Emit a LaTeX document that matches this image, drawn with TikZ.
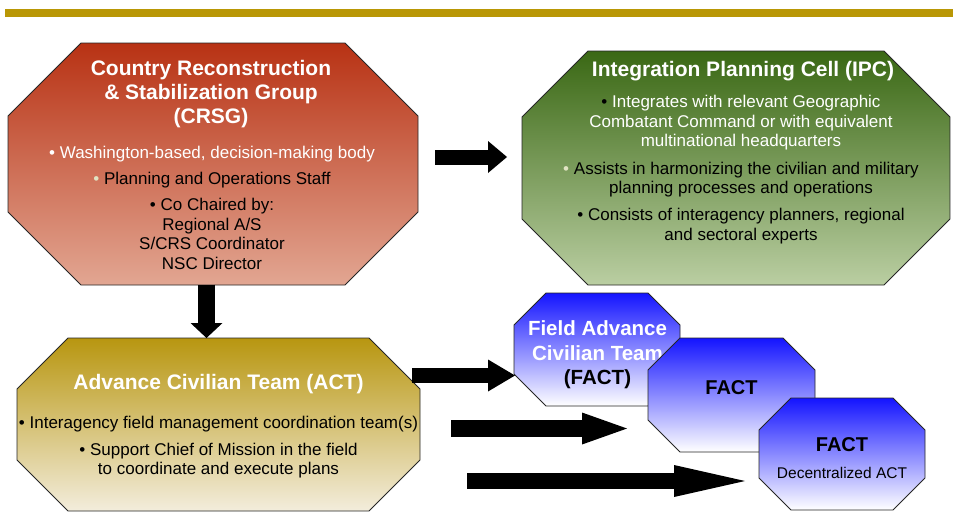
\documentclass[tikz,border=0pt]{standalone}
\usepackage{fontspec}
\setmainfont{Liberation Sans}
\usetikzlibrary{arrows.meta}

\definecolor{barcol}{RGB}{185,151,5}
\definecolor{crsgtop}{RGB}{184,50,20}
\definecolor{crsgbot}{RGB}{226,166,146}
\definecolor{ipctop}{RGB}{58,104,20}
\definecolor{ipcbot}{RGB}{186,206,162}
\definecolor{acttop}{RGB}{184,150,16}
\definecolor{actbot}{RGB}{243,237,220}
\definecolor{facttop}{RGB}{20,20,255}
\definecolor{palebullet}{RGB}{225,228,195}

% octagon from corner (#1,#2) to corner (#3,#4), chamfer #5, style #6
\newcommand{\octagon}[6]{%
  \path[#6] (#1+#5,#2) -- (#3-#5,#2) -- (#3,#2+#5) -- (#3,#4-#5)
    -- (#3-#5,#4) -- (#1+#5,#4) -- (#1,#4-#5) -- (#1,#2+#5) -- cycle;}

\tikzset{
  octo/.style={draw=black!85, line width=0.8pt},
  title/.style={font=\fontsize{21}{24}\selectfont\bfseries, text=white, align=center},
  body/.style={font=\fontsize{17}{19.5}\selectfont, align=center},
  fatarrow/.style={line width=16pt, -{Triangle[length=#1, width=32pt, line width=0pt]}}
}

\begin{document}
\begin{tikzpicture}[x=1pt, y=-1pt]
\useasboundingbox (0,0) rectangle (953,512);
\fill[barcol] (5,9) rectangle (953,16.5);

% the two upper octagons
\octagon{8}{43}{418}{285}{73}{octo, top color=crsgtop, bottom color=crsgbot}
\octagon{522}{51}{950}{285}{66}{octo, top color=ipctop, bottom color=ipcbot}
\octagon{17}{338}{420}{511}{51}{octo, top color=acttop, bottom color=actbot}

\node[title] (crsg) at (211,94) {Country Reconstruction\\ \& Stabilization Group\\ (CRSG)};
\node[body] (crsgbody) at (212,207.5) {\textcolor{white}{\textbullet\ Washington-based, decision-making body}\\[6.5pt]
  \textcolor{palebullet}{\textbullet}\ Planning and Operations Staff\\[7pt]
  \textbullet\ Co Chaired by:\\ Regional A/S\\ S/CRS Coordinator\\ NSC Director};

\node[title] (ipc) at (743,71) {Integration Planning Cell (IPC)};
\node[body] (ipcbody) at (741,169.5) {\textbullet\ \textcolor{white}{Integrates with relevant Geographic}\\
  \textcolor{white}{Combatant Command or with equivalent}\\
  \textcolor{white}{multinational headquarters}\\[8pt]
  \textcolor{palebullet}{\textbullet}\ Assists in harmonizing the civilian and military\\
  planning processes and operations\\[7.5pt]
  \textbullet\ Consists of interagency planners, regional\\ and sectoral experts};

\node[title] (act) at (218.5,384) {Advance Civilian Team (ACT)};
\node[body] (actbody) at (218.5,447.5) {\textbullet\ Interagency field management coordination team(s)\\[7pt]
  \textbullet\ Support Chief of Mission in the field\\ to coordinate and execute plans};

% field teams
\octagon{514}{293}{680}{406}{32}{octo, top color=facttop, bottom color=white}
\node[title, font=\fontsize{20.5}{24.5}\selectfont\bfseries] (fact1) at (597.5,355) {Field Advance\\ Civilian Team\\ \textcolor{black}{(FACT)}};
\octagon{648}{338}{815}{452}{32}{octo, top color=facttop, bottom color=white}
\node[font=\fontsize{20}{24}\selectfont\bfseries] (fact2) at (731.5,387.5) {FACT};
\octagon{759}{398}{925}{510}{32}{octo, top color=facttop, bottom color=white}
\node[font=\fontsize{20}{24}\selectfont\bfseries] (fact3) at (842,444.5) {FACT};
\node[font=\fontsize{15.5}{18}\selectfont] (fact3sub) at (842,473) {Decentralized ACT};

% arrows
\coordinate (crsgout) at (435,157);
\coordinate (ipcin) at (507,157);
\coordinate (crsgdown) at (206.5,284.5);
\coordinate (acttop) at (206.5,338);
\coordinate (actout1) at (412,375.5);
\coordinate (fact1in) at (515,375.5);
\coordinate (actout2) at (451,428.5);
\coordinate (fact2in) at (627,428.5);
\coordinate (actout3) at (467,481);
\coordinate (fact3in) at (745,481);
\draw[fatarrow=19pt, line width=15pt] (crsgout) -- (ipcin);
\draw[fatarrow=15pt, line width=17pt] (crsgdown) -- (acttop);
\draw[fatarrow=27pt, line width=15pt] (actout1) -- (fact1in);
\draw[fatarrow=45pt, line width=17pt] (actout2) -- (fact2in);
\draw[fatarrow=71pt] (actout3) -- (fact3in);
\end{tikzpicture}
\end{document}
